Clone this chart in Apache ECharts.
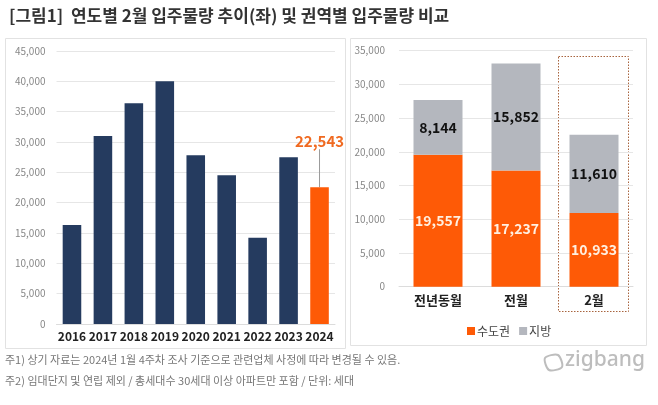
<!DOCTYPE html>
<html><head><meta charset="utf-8">
<script src="https://cdn.jsdelivr.net/npm/echarts@6/dist/echarts.min.js"></script>
<style>html,body{margin:0;padding:0;background:#fff}#c{width:658px;height:405px}</style>
</head><body><div id="c"></div>
<script>
const years = ['2016','2017','2018','2019','2020','2021','2022','2023','2024'];
const yearValues = [16300, 31000, 36400, 40000, 27800, 24500, 14200, 27500, 22543];
const regionCats = ['전년동월','전월','2월'];
const capitalValues = [19557, 17237, 10933];
const localValues = [8144, 15852, 11610];
const leftTicks = {min: 0, max: 45000, interval: 5000};
const rightTicks = {min: 0, max: 35000, interval: 5000};

const FONT = '"Noto Sans CJK KR", "Noto Sans", sans-serif';
const NAVY = '#253b5f', ORANGE = '#fe5a06', GRAY = '#b4b7be';

const chart = echarts.init(document.getElementById('c'), null, {renderer: 'canvas'});
const axisLabelY = {color: '#888', fontSize: 10, fontFamily: FONT, formatter: v => v.toLocaleString('en-US')};
const splitLine = {show: true, lineStyle: {color: '#e6e6e6', width: 1}};

chart.setOption({
  backgroundColor: '#fff',
  textStyle: {fontFamily: FONT},
  animation: false,
  grid: [
    {left: 56.5, right: 323, top: 51, bottom: 81},
    {left: 399, right: 25, top: 50.7, bottom: 118.3}
  ],
  xAxis: [
    {type: 'category', gridIndex: 0, data: years, axisTick: {show: false},
     axisLine: {lineStyle: {color: '#dcdcdc'}},
     axisLabel: {color: '#222', fontSize: 12, fontWeight: 'bold', margin: 6, fontFamily: FONT, interval: 0}},
    {type: 'category', gridIndex: 1, data: regionCats, axisTick: {show: false},
     axisLine: {lineStyle: {color: '#dcdcdc'}},
     axisLabel: {color: '#222', fontSize: 13, fontWeight: 'bold', margin: 7, fontFamily: FONT}}
  ],
  yAxis: [
    {type: 'value', gridIndex: 0, min: leftTicks.min, max: leftTicks.max, interval: leftTicks.interval,
     axisLabel: Object.assign({margin: 11}, axisLabelY), axisLine: {show: false}, axisTick: {show: false}, splitLine: splitLine},
    {type: 'value', gridIndex: 1, min: rightTicks.min, max: rightTicks.max, interval: rightTicks.interval,
     axisLabel: Object.assign({margin: 14}, axisLabelY), axisLine: {show: false}, axisTick: {show: false}, splitLine: splitLine}
  ],
  legend: {
    data: ['수도권', '지방'], left: 462, top: 320, itemWidth: 8, itemHeight: 8, itemGap: 9, icon: 'rect',
    textStyle: {fontSize: 12, color: '#444', fontFamily: FONT, padding: [0,0,0,-3]}
  },
  series: [
    {
      type: 'bar', xAxisIndex: 0, yAxisIndex: 0, barCategoryGap: '40%',
      data: yearValues.map((v, i) => i === yearValues.length - 1 ? {
        value: v, itemStyle: {color: ORANGE},
        label: {show: true, position: 'top', distance: 38, color: '#f06a21', fontSize: 15, fontWeight: 'bold',
                fontFamily: FONT, formatter: p => p.value.toLocaleString('en-US')}
      } : {value: v, itemStyle: {color: NAVY}}),
      labelLine: {show: true, lineStyle: {color: '#9a9a9a', width: 1}},
      labelLayout: {moveOverlap: false}
    },
    {
      name: '수도권', type: 'bar', stack: 'r', xAxisIndex: 1, yAxisIndex: 1, barWidth: 49,
      itemStyle: {color: ORANGE}, data: capitalValues,
      label: {show: true, position: 'inside', color: '#ffefe0', fontSize: 14, fontWeight: 'bold', fontFamily: FONT,
              formatter: p => p.value.toLocaleString('en-US')}
    },
    {
      name: '지방', type: 'bar', stack: 'r', xAxisIndex: 1, yAxisIndex: 1, barWidth: 49,
      itemStyle: {color: GRAY}, data: localValues,
      label: {show: true, position: 'inside', color: '#111', fontSize: 14, fontWeight: 'bold', fontFamily: FONT,
              formatter: p => p.value.toLocaleString('en-US')}
    }
  ],
  graphic: [
    {type: 'text', left: 9, top: 7, style: {text: '[그림1]  연도별 2월 입주물량 추이(좌) 및 권역별 입주물량 비교',
      fill: '#333', font: 'bold 17px ' + FONT}},
    {type: 'rect', shape: {x: 5.5, y: 38.5, width: 340, height: 310}, style: {fill: 'none', stroke: '#e2e2e2', lineWidth: 1}, z: -1},
    {type: 'rect', shape: {x: 350.5, y: 38.5, width: 296, height: 307}, style: {fill: 'none', stroke: '#e2e2e2', lineWidth: 1}, z: -1},
    {type: 'rect', shape: {x: 558.5, y: 56.5, width: 70, height: 255}, style: {fill: 'none', stroke: '#a8643e', lineWidth: 1, lineDash: [1.5, 1.5]}},
    {type: 'text', left: 5, top: 354, style: {text: '주1) 상기 자료는 2024년 1월 4주차 조사 기준으로 관련업체 사정에 따라 변경될 수 있음.',
      fill: '#777', font: '11px ' + FONT}},
    {type: 'text', left: 5, top: 375, style: {text: '주2) 임대단지 및 연립 제외 / 총세대수 30세대 이상 아파트만 포함 / 단위: 세대',
      fill: '#777', font: '11px ' + FONT}},
    {type: 'polygon', shape: {points: [[545, 358], [558, 355], [562, 367], [549, 370]], smooth: 0.3},
      style: {fill: 'none', stroke: '#bdbdbd', lineWidth: 2}},
    {type: 'text', left: 565, top: 350, style: {text: 'zigbang', fill: '#bdbdbd', font: '500 21px "Noto Sans", sans-serif'}}
  ]
});
</script></body></html>
